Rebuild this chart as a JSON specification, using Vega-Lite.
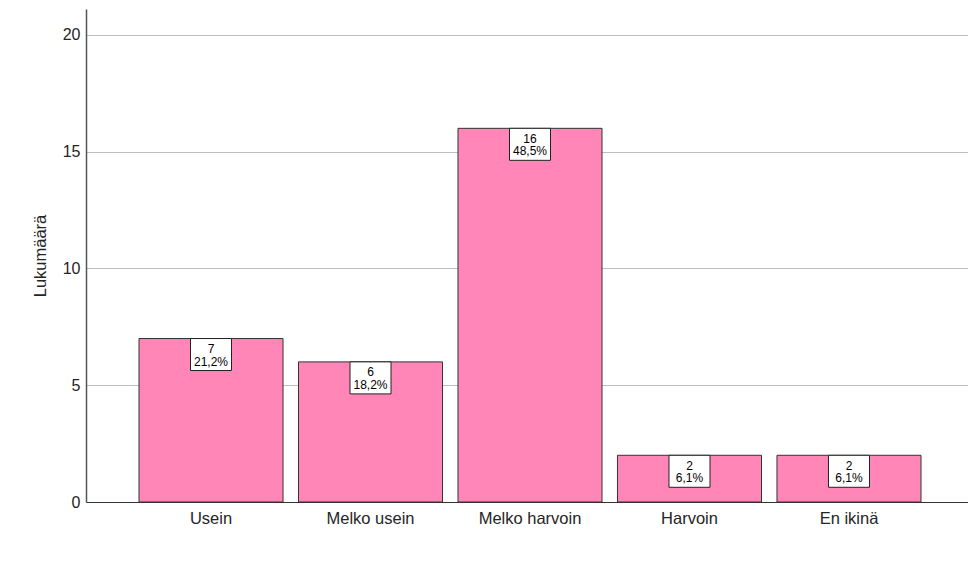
{
  "$schema": "https://vega.github.io/schema/vega-lite/v6.json",
  "width": 882,
  "height": 493,
  "autosize": {"type": "none"},
  "padding": {"left": 86, "top": 9, "right": 0, "bottom": 71},
  "background": "white",
  "config": {
    "view": {"stroke": null},
    "font": "Liberation Sans"
  },
  "data": {
    "values": [
      {"category": "Usein", "count": 7, "percent": "21,2%"},
      {"category": "Melko usein", "count": 6, "percent": "18,2%"},
      {"category": "Melko harvoin", "count": 16, "percent": "48,5%"},
      {"category": "Harvoin", "count": 2, "percent": "6,1%"},
      {"category": "En ikinä", "count": 2, "percent": "6,1%"}
    ]
  },
  "encoding": {
    "x": {
      "field": "category",
      "type": "nominal",
      "sort": null,
      "scale": {"paddingInner": 0.097, "paddingOuter": 0.3135, "align": 0.53},
      "axis": {
        "title": null,
        "labelAngle": 0,
        "ticks": false,
        "labelPadding": 8,
        "labelFontSize": 16.5,
        "labelColor": "#252525",
        "domainColor": "#333333",
        "domainWidth": 1.2
      }
    }
  },
  "layer": [
    {
      "mark": {"type": "bar", "fill": "#FF86B6", "stroke": "#333333", "strokeWidth": 1},
      "encoding": {
        "y": {
          "field": "count",
          "type": "quantitative",
          "scale": {"domain": [0, 21.11], "nice": false},
          "axis": {
            "title": "Lukumäärä",
            "values": [0, 5, 10, 15, 20],
            "ticks": false,
            "labelPadding": 6,
            "labelFontSize": 16,
            "labelColor": "#252525",
            "titleFontSize": 16.5,
            "titleFontWeight": "normal",
            "titleColor": "#252525",
            "titlePadding": 14,
            "grid": true,
            "gridColor": "#BDBDBD",
            "gridWidth": 1,
            "domainColor": "#555555",
            "domainWidth": 1.5
          }
        }
      }
    },
    {
      "mark": {"type": "bar", "width": 41, "fill": "white", "stroke": "#222222", "strokeWidth": 1, "y2Offset": 32},
      "encoding": {
        "y": {"field": "count", "type": "quantitative"},
        "y2": {"field": "count"}
      }
    },
    {
      "mark": {"type": "text", "fontSize": 12, "color": "black", "baseline": "middle", "dy": 10.5},
      "encoding": {
        "y": {"field": "count", "type": "quantitative"},
        "text": {"field": "count", "type": "quantitative"}
      }
    },
    {
      "mark": {"type": "text", "fontSize": 12, "color": "black", "baseline": "middle", "dy": 23},
      "encoding": {
        "y": {"field": "count", "type": "quantitative"},
        "text": {"field": "percent", "type": "nominal"}
      }
    }
  ]
}
